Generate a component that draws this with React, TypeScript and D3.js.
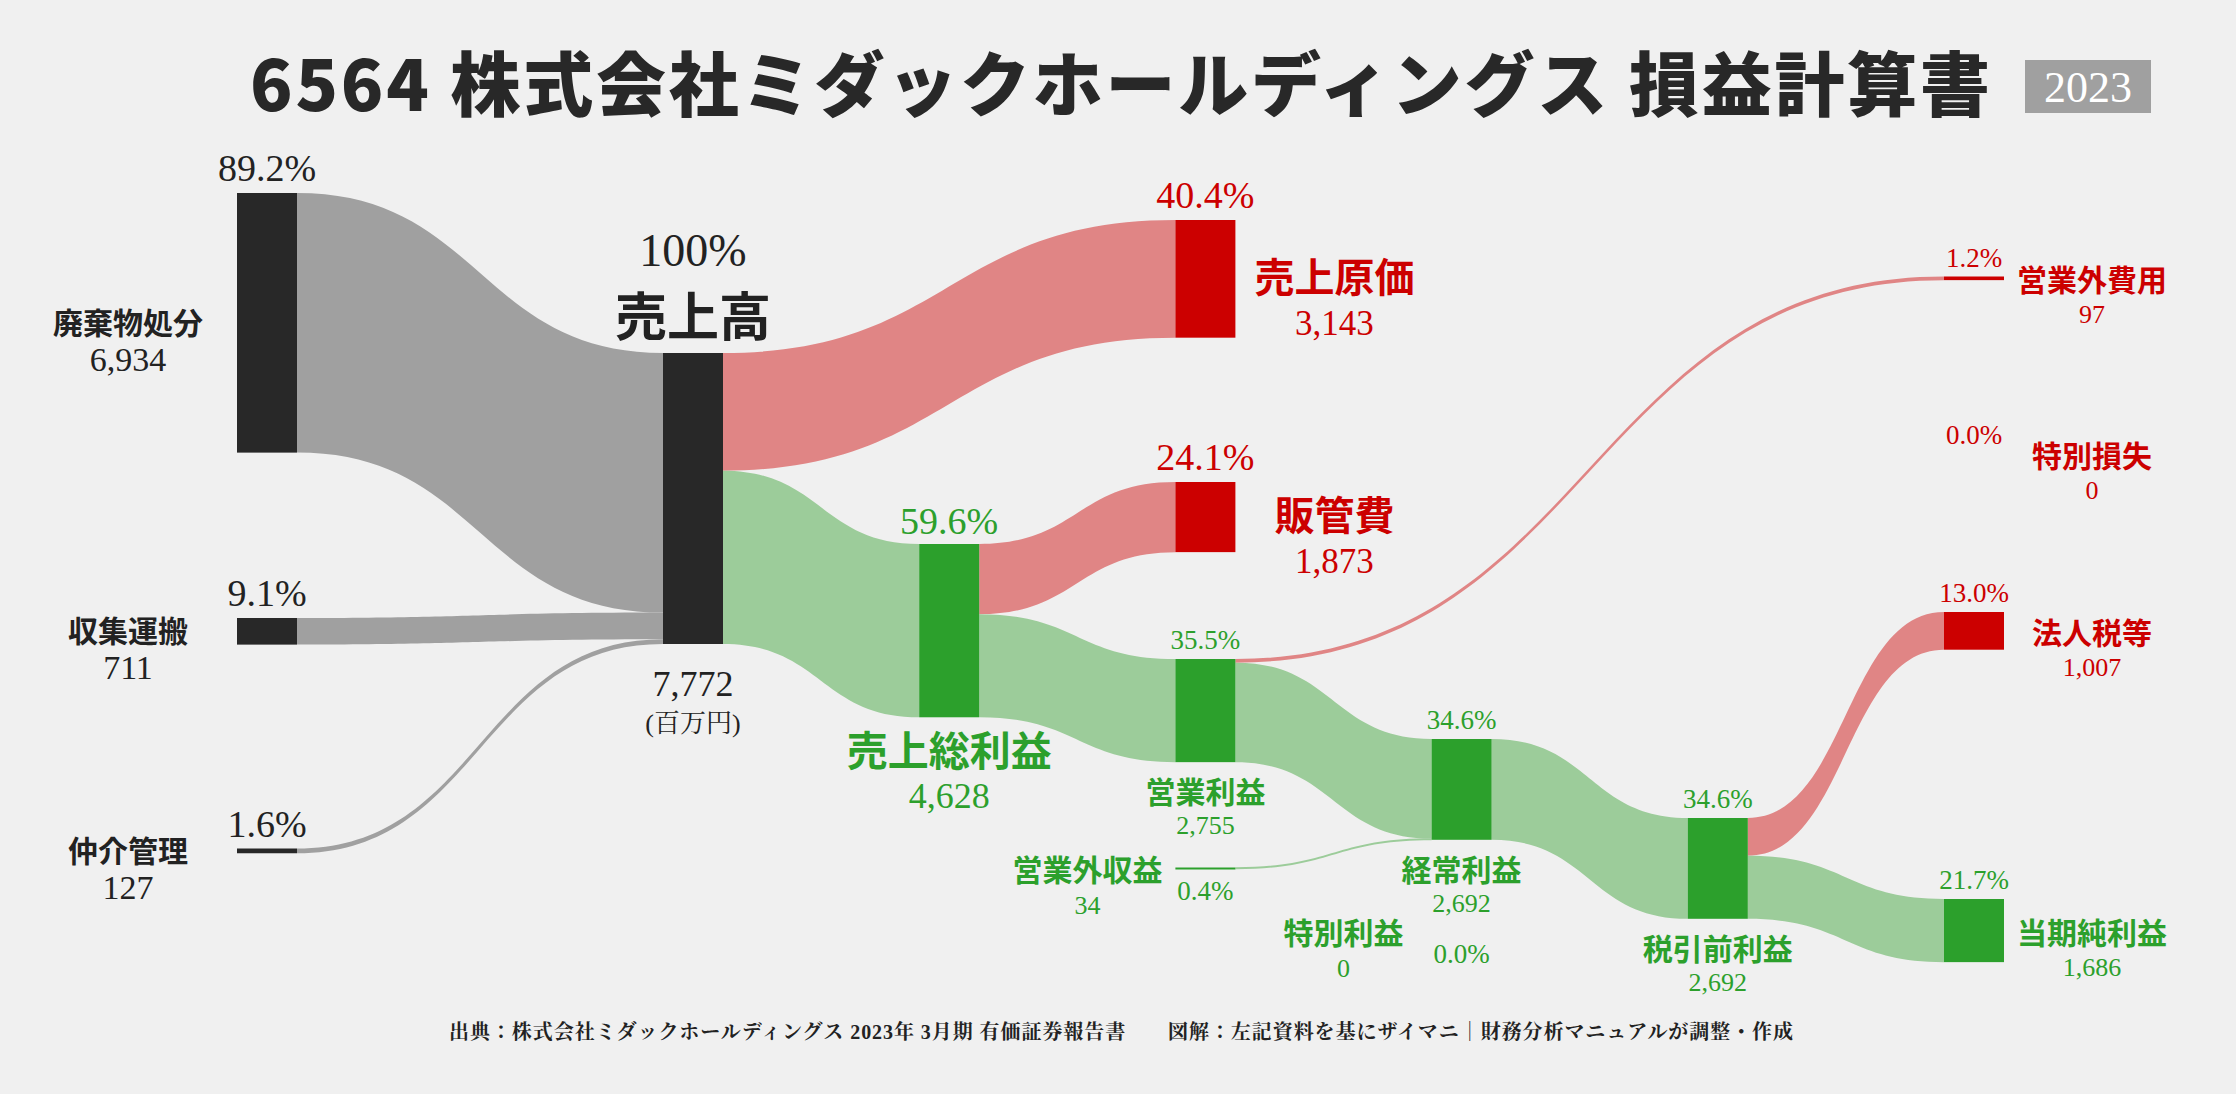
import React from 'react';
import * as d3 from 'd3';

// ---------- DATA ----------
const titleText = '6564 株式会社ミダックホールディングス 損益計算書';
const yearLabel = '2023';
const footerText = '出典：株式会社ミダックホールディングス 2023年 3月期 有価証券報告書　　図解：左記資料を基にザイマニ｜財務分析マニュアルが調整・作成';
const unitLabel = '(百万円)';

const nodeNames = ['廃棄物処分', '収集運搬', '仲介管理', '売上高', '売上原価', '売上総利益', '販管費', '営業利益', '営業外収益', '営業外費用', '経常利益', '特別利益', '特別損失', '税引前利益', '法人税等', '当期純利益'];
const nodeValues = [6934, 711, 127, 7772, 3143, 4628, 1873, 2755, 34, 97, 2692, 0, 0, 2692, 1007, 1686];
const nodePercents = ['89.2%', '9.1%', '1.6%', '100%', '40.4%', '59.6%', '24.1%', '35.5%', '0.4%', '1.2%', '34.6%', '0.0%', '0.0%', '34.6%', '13.0%', '21.7%'];
const nodeKinds = ['input', 'input', 'input', 'total', 'cost', 'profit', 'cost', 'profit', 'profit', 'cost', 'profit', 'profit', 'cost', 'profit', 'cost', 'profit'];

const linkSources = ['廃棄物処分', '収集運搬', '仲介管理', '売上高', '売上高', '売上総利益', '売上総利益', '営業利益', '営業利益', '営業外収益', '経常利益', '税引前利益', '税引前利益'];
const linkTargets = ['売上高', '売上高', '売上高', '売上原価', '売上総利益', '販管費', '営業利益', '営業外費用', '経常利益', '経常利益', '税引前利益', '法人税等', '当期純利益'];
const linkValues = [6934, 711, 127, 3143, 4628, 1873, 2755, 97, 2658, 34, 2692, 1007, 1686];

// ---------- LAYOUT (positions, not data) ----------
const nodeStage = [0, 0, 0, 1, 3, 2, 3, 3, 3, 6, 4, 4, 6, 5, 6, 6];
const nodeTop = [193, 618, 848.5, 353, 220, 544, 482, 659, 867.5, 276.5, 739, 931, 454, 818, 612, 899];
const nodeLabelMode = ['input', 'input', 'input', 'total', 'rightBig', 'belowBig', 'rightBig', 'below', 'left', 'right', 'below', 'left', 'right', 'below', 'right', 'right'];

const W = 2236;
const H = 1094;
const NODE_W = 60;

const COLORS: Record<string, { node: string; link: string; text: string }> = {
  input: { node: '#282828', link: '#a0a0a0', text: '#222222' },
  total: { node: '#282828', link: '#a0a0a0', text: '#222222' },
  cost: { node: '#cc0000', link: '#e08585', text: '#cc0000' },
  profit: { node: '#2ca02c', link: '#9ccc9a', text: '#2ca02c' },
};

const SERIF = '"Liberation Serif", "Times New Roman", "Noto Serif CJK JP", serif';
const GOTHIC = '"Noto Sans CJK JP", "Noto Sans", sans-serif';

export default function App() {
  const xScale = d3.scaleLinear().domain([0, 1, 6]).range([237, 663, 1944]);
  const hScale = d3.scaleLinear().domain([0, 7772]).range([0, 291]);
  const fmt = d3.format(',');

  const nodes = nodeNames.map((name, i) => {
    const x0 = xScale(nodeStage[i]);
    const h = hScale(nodeValues[i]);
    const y0 = nodeTop[i];
    return {
      name, i, x0, x1: x0 + NODE_W, y0, y1: y0 + h, h,
      value: nodeValues[i], pct: nodePercents[i], kind: nodeKinds[i], mode: nodeLabelMode[i],
      outOff: y0, inOff: y0,
    };
  });
  const byName = new Map(nodes.map((n) => [n.name, n]));

  const links = linkSources.map((s, i) => {
    const src = byName.get(s)!;
    const tgt = byName.get(linkTargets[i])!;
    const w = hScale(linkValues[i]);
    const sy0 = src.outOff; src.outOff += w;
    const ty0 = tgt.inOff; tgt.inOff += w;
    return { src, tgt, w, sy0, ty0, color: COLORS[tgt.kind === 'total' ? 'input' : tgt.kind].link };
  });

  const linkPath = (l: any) => {
    let w = l.w;
    let sy0 = l.sy0, ty0 = l.ty0;
    if (w < 2) { sy0 -= (2 - w) / 2; ty0 -= (2 - w) / 2; w = 2; }
    const x0 = l.src.x1, x1 = l.tgt.x0;
    const xm = (x0 + x1) / 2;
    const p = d3.path();
    p.moveTo(x0, sy0);
    p.bezierCurveTo(xm, sy0, xm, ty0, x1, ty0);
    p.lineTo(x1, ty0 + w);
    p.bezierCurveTo(xm, ty0 + w, xm, sy0 + w, x0, sy0 + w);
    p.closePath();
    return p.toString();
  };

  const labels: any[] = [];
  nodes.forEach((n) => {
    const c = COLORS[n.kind].text;
    const cx = (n.x0 + n.x1) / 2;
    const cy = (n.y0 + n.y1) / 2;
    const T = (key: string, x: number, y: number, text: string, size: number, font: string, weight: number, central = false) =>
      labels.push(
        <text key={n.name + key} x={x} y={y} fill={c} fontSize={size} fontFamily={font} fontWeight={weight}
          textAnchor="middle" dominantBaseline={central ? 'central' : 'alphabetic'}>{text}</text>
      );
    const v = fmt(n.value);
    switch (n.mode) {
      case 'input':
        T('p', cx, n.y0 - 12, n.pct, 38, SERIF, 400);
        T('n', n.x0 - 109, cy - 2, n.name, 30, GOTHIC, 700, true);
        T('v', n.x0 - 109, cy + 48, v, 34, SERIF, 400);
        break;
      case 'total':
        T('p', cx, n.y0 - 87, n.pct, 46, SERIF, 400);
        T('n', cx, n.y0 - 40, n.name, 52, GOTHIC, 700, true);
        T('v', cx, n.y1 + 52, v, 36, SERIF, 400);
        T('u', cx, n.y1 + 88, unitLabel, 26, SERIF, 400);
        break;
      case 'belowBig':
        T('p', cx, n.y0 - 10, n.pct, 38, SERIF, 400);
        T('n', cx, n.y1 + 31, n.name, 41, GOTHIC, 700, true);
        T('v', cx, n.y1 + 91, v, 36, SERIF, 400);
        break;
      case 'rightBig':
        T('p', cx, n.y0 - 12, n.pct, 38, SERIF, 400);
        T('n', n.x1 + 99, cy - 4, n.name, 40, GOTHIC, 700, true);
        T('v', n.x1 + 99, cy + 56, v, 35, SERIF, 400);
        break;
      case 'below':
        T('p', cx, n.y0 - 10, n.pct, 27, SERIF, 400);
        T('n', cx, n.y1 + 28, n.name, 30, GOTHIC, 700, true);
        T('v', cx, n.y1 + 72, v, 26, SERIF, 400);
        break;
      case 'right':
        T('p', cx, n.y0 - 10, n.pct, 27, SERIF, 400);
        T('n', n.x1 + 88, cy, n.name, 30, GOTHIC, 700, true);
        T('v', n.x1 + 88, cy + 45, v, 26, SERIF, 400);
        break;
      case 'left':
        T('p', cx, cy + 32, n.pct, 27, SERIF, 400);
        T('n', n.x0 - 88, cy, n.name, 30, GOTHIC, 700, true);
        T('v', n.x0 - 88, cy + 46, v, 26, SERIF, 400);
        break;
    }
  });

  return (
    <svg width={W} height={H} viewBox={`0 0 ${W} ${H}`}
      style={{ position: 'absolute', left: 0, top: 0, display: 'block' }}>
      <rect x={0} y={0} width={W} height={H} fill="#f0f0f0" />
      <text x={1120} y={80} fontSize={70} fontWeight={900} fontFamily={GOTHIC} fill="#282828"
        textAnchor="middle" dominantBaseline="central" textLength={1740} lengthAdjust="spacing">{titleText}</text>
      <rect x={2025} y={60} width={126} height={53} fill="#a0a0a0" />
      <text x={2088} y={87} fontSize={44} fontFamily={SERIF} fill="#ffffff" textAnchor="middle" dominantBaseline="central">{yearLabel}</text>
      <g>
        {links.map((l, i) => (
          <path key={i} d={linkPath(l)} fill={l.color} />
        ))}
      </g>
      <g>
        {nodes.filter((n) => n.value > 0).map((n) => (
          <rect key={n.name} x={n.x0} y={n.y0} width={NODE_W} height={Math.max(n.h, 2)} fill={COLORS[n.kind].node} />
        ))}
      </g>
      <g>{labels}</g>
      <text x={1121} y={1032} fontSize={20} fontWeight={700} fontFamily={SERIF} fill="#222222"
        textAnchor="middle" dominantBaseline="central" textLength={1344} lengthAdjust="spacing">{footerText}</text>
    </svg>
  );
}
